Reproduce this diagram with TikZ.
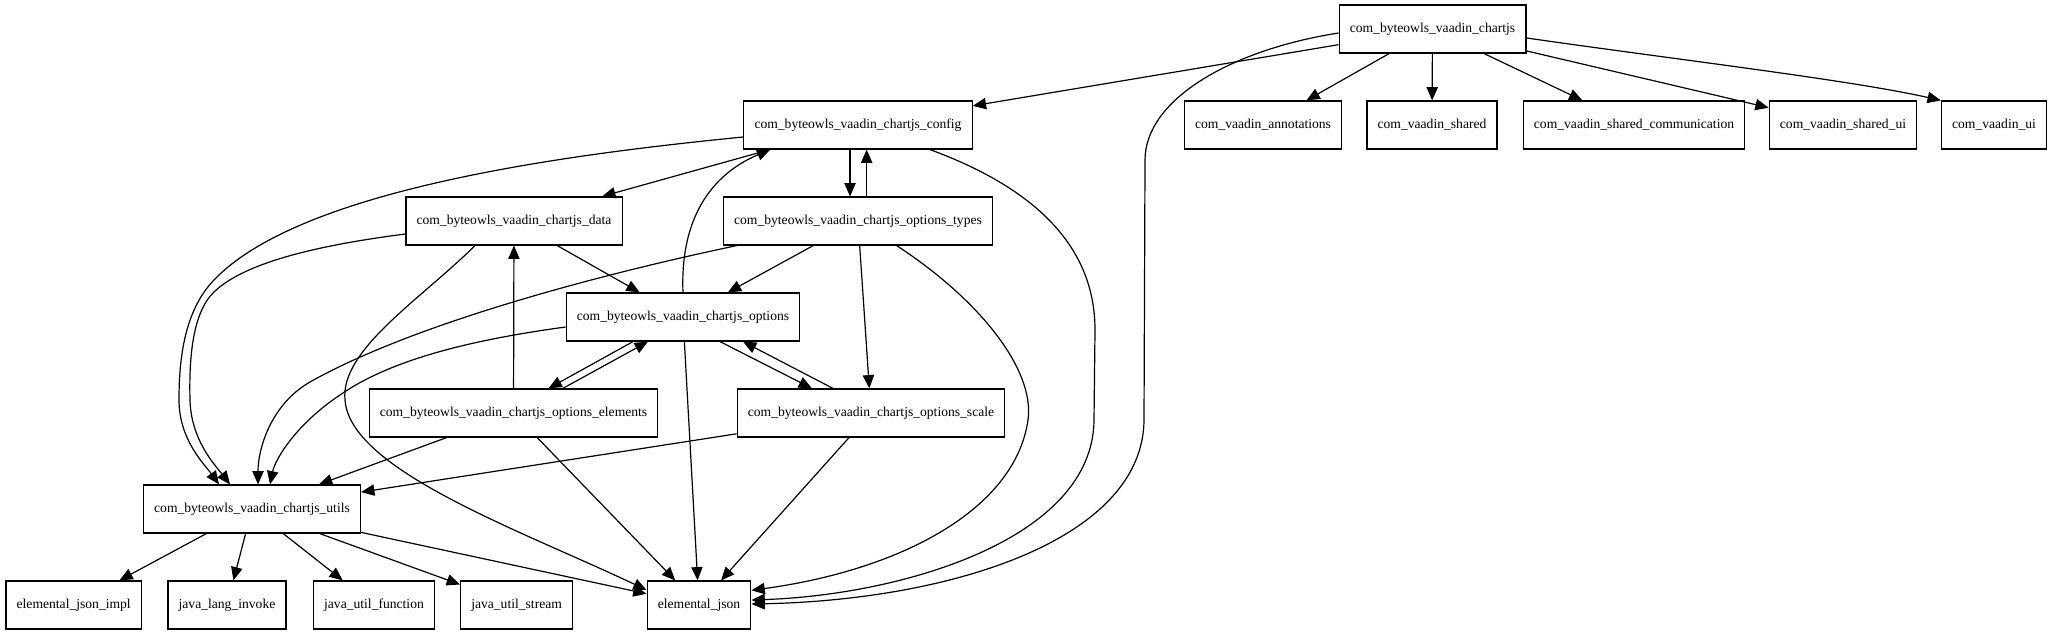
\documentclass[tikz,border=0pt]{standalone}
\usepackage{fontspec}
\setmainfont{Liberation Serif}
\usetikzlibrary{arrows.meta}
\tikzset{
    pkg/.style={draw, rectangle, line width=0.9pt, minimum height=36pt,
        inner xsep=8pt, inner ysep=0pt, font=\fontsize{10.2}{12}\selectfont},
    dep/.style={line width=0.9pt, -{Triangle[length=10pt,width=8.5pt]}}
}

\begin{document}
\begin{tikzpicture}[x=0.75pt, y=-0.75pt]
    % White page, same size as the graph
    \fill[white] (0,0) rectangle (2054,635);
    % Package boxes, rank by rank
    \foreach \name/\x/\y/\txt in {
        chartjs/1432.5/29/com\_byteowls\_vaadin\_chartjs,
        config/858/125/com\_byteowls\_vaadin\_chartjs\_config,
        annotations/1263/125/com\_vaadin\_annotations,
        shared/1432/125/com\_vaadin\_shared,
        sharedcomm/1634/125/com\_vaadin\_shared\_communication,
        sharedui/1843/125/com\_vaadin\_shared\_ui,
        vaadinui/1994/125/com\_vaadin\_ui,
        data/514/221/com\_byteowls\_vaadin\_chartjs\_data,
        types/858/221/com\_byteowls\_vaadin\_chartjs\_options\_types,
        options/683/317/com\_byteowls\_vaadin\_chartjs\_options,
        elements/513.5/413/com\_byteowls\_vaadin\_chartjs\_options\_elements,
        scale/871/413/com\_byteowls\_vaadin\_chartjs\_options\_scale,
        utils/252/509/com\_byteowls\_vaadin\_chartjs\_utils,
        jsonimpl/73.7/605/elemental\_json\_impl,
        invoke/227/605/java\_lang\_invoke,
        function/374/605/java\_util\_function,
        stream/516.6/605/java\_util\_stream,
        json/699/605/elemental\_json} {
        \node[pkg] (\name) at (\x,\y) {\txt};
    }
    % Straight dependencies
    \foreach \from/\to in {
        chartjs/config, chartjs/annotations, chartjs/shared,
        chartjs/sharedcomm, chartjs/sharedui,
        config/data, types/options, types/scale, data/options, options/json,
        elements/data, elements/utils, elements/json, scale/utils, scale/json,
        utils/jsonimpl, utils/invoke, utils/function, utils/stream, utils/json} {
        \draw[dep] (\from) -- (\to);
    }
    % Pairs that point both ways
    \draw[dep] ([xshift=-6pt]config.south) -- ([xshift=-6pt]types.north);
    \draw[dep] ([xshift=6.5pt]types.north) -- ([xshift=6.5pt]config.south);
    \draw[dep] ([xshift=-37.5pt]options.south) -- ([xshift=26.25pt]elements.north);
    \draw[dep] ([xshift=37pt]elements.north) -- ([xshift=-26.25pt]options.south);
    \draw[dep] ([xshift=27.75pt]options.south) -- ([xshift=-44.25pt]scale.north);
    \draw[dep] ([xshift=-28.5pt]scale.north) -- ([xshift=45pt]options.south);
    % Curved dependencies
    \draw[dep] ([yshift=-6.75pt]chartjs.east) .. controls (1680,60) and (1850,80) .. (vaadinui.north west);
    \draw[dep] (options.north) .. controls (680,220) and (710,175) .. ([xshift=20.25pt]config.south west);
    \draw[dep] ([yshift=-9pt]config.west) .. controls (560,155) and (300,190) .. (214,280)
        .. controls (184,311) and (179,360) .. (179,400)
        .. controls (179,440) and (205,465) .. ([xshift=-24.75pt]utils.north);
    \draw[dep] ([yshift=-9.75pt]data.west) .. controls (320,245) and (245,262) .. (214,292)
        .. controls (192,313) and (189,360) .. (190,400)
        .. controls (191,440) and (215,465) .. ([xshift=-16.5pt]utils.north);
    \draw[dep] ([xshift=10.5pt]types.south west) .. controls (620,270) and (420,320) .. (310,382)
        .. controls (270,405) and (258,450) .. ([xshift=4.5pt]utils.north);
    \draw[dep] ([yshift=-7.5pt]options.west) .. controls (470,340) and (390,360) .. (340,395)
        .. controls (295,425) and (275,460) .. ([xshift=13.5pt]utils.north);
    \draw[dep] ([xshift=-29.25pt]data.south) .. controls (420,300) and (340,350) .. (345,400)
        .. controls (350,470) and (520,530) .. ([yshift=11.25pt]json.west);
    \draw[dep] ([xshift=29pt]types.south) .. controls (980,300) and (1035,370) .. (1028,420)
        .. controls (1015,510) and (900,570) .. ([yshift=11pt]json.east);
    \draw[dep] ([xshift=54pt]config.south) .. controls (1040,190) and (1095,250) .. (1095,330)
        -- (1094,420) .. controls (1093,540) and (900,595) .. ([yshift=3.75pt]json.east);
    \draw[dep] ([yshift=-3pt]chartjs.west) .. controls (1230,50) and (1145,100) .. (1145,160)
        -- (1144,420) .. controls (1143,540) and (950,600) .. ([yshift=0.75pt]json.east);
\end{tikzpicture}
\end{document}
